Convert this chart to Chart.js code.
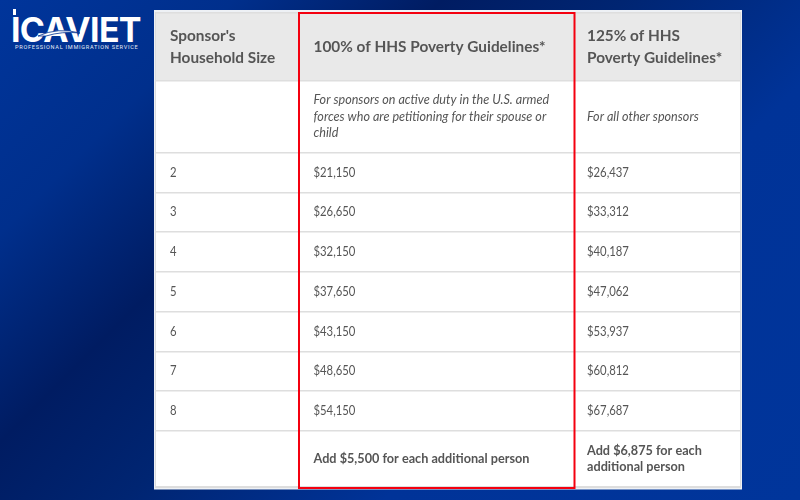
<!DOCTYPE html>
<html>
<head>
<meta charset="utf-8">
<style>
  html, body { margin: 0; padding: 0; }
  body {
    width: 800px; height: 500px; overflow: hidden; position: relative;
    background: linear-gradient(135deg, #00359b 0%, #002f8c 18%, #001c62 34%, #002572 48%, #003398 68%, #00359b 100%);
  }
  canvas { position: absolute; left: 0; top: 0; }
  .logo { position: absolute; color: #fff; white-space: nowrap; }
  #logoName { left: 11px; top: 10px; font: 700 34px/40px Inter, sans-serif; letter-spacing: -0.7px; }
  #logoSub { left: 15px; top: 44px; font: 400 5.6px/7px Roboto, sans-serif; letter-spacing: 0.72px; opacity: 0.9; }
  #logoMark { left: 0; top: 0; }
</style>
</head>
<body>
<div class="logo" id="logoName">ICAVIET</div>
<div class="logo" id="logoSub">PROFESSIONAL IMMIGRATION SERVICE</div>
<svg class="logo" id="logoMark" width="150" height="50">
  <rect x="13" y="9" width="3" height="6" fill="#fff"/>
  <path d="M38 36 Q58 27 80 33 Q62 31 46 36 Z" fill="#fff" stroke="#00308f" stroke-width="0.8"/>
</svg>
<canvas id="table" width="800" height="500"></canvas>
<script src="https://cdn.jsdelivr.net/npm/chart.js@4"></script>
<script>
  // Table content
  const householdSizes = [2, 3, 4, 5, 6, 7, 8];
  const guideline100 = [21150, 26650, 32150, 37650, 43150, 48650, 54150];
  const guideline125 = [26437, 33312, 40187, 47062, 53937, 60812, 67687];
  const headers = [["Sponsor's", 'Household Size'], ['100% of HHS Poverty Guidelines*'], ['125% of HHS', 'Poverty Guidelines*']];
  const notes = [[], ['For sponsors on active duty in the U.S. armed', 'forces who are petitioning for their spouse or', 'child'], ['For all other sponsors']];
  const extras = [[], ['Add $5,500 for each additional person'], ['Add $6,875 for each', 'additional person']];

  // Layout in pixels, the axes run 1:1 with the page
  const rowEdges = [13, 80.5, 153, 192.5, 232, 272, 311.5, 351.5, 391, 431, 487];
  const columnText = [170, 313.5, 587];
  const FONT = 'Lato, sans-serif';
  const TEXT = '#555555';
  // squeeze: Lato runs wider than the font in the reference
  const styles = {
    header: {font: `700 16px ${FONT}`, line: 22.5, squeeze: 0.96},
    note: {font: `italic 400 13px ${FONT}`, line: 16.5, squeeze: 0.97},
    value: {font: `400 13px ${FONT}`, line: 16, squeeze: 0.87},
    extra: {font: `700 13px ${FONT}`, line: 16, squeeze: 0.975},
  };

  const rowMid = (row) => (rowEdges[row] + rowEdges[row + 1]) / 2;
  const money = (v) => '$' + v.toLocaleString('en-US');

  function cells(col, values) {
    const pts = [
      {x: columnText[col], y: rowMid(0), lines: headers[col], style: 'header'},
      {x: columnText[col], y: rowMid(1), lines: notes[col], style: 'note'},
    ];
    values.forEach((v, i) => pts.push({x: columnText[col], y: rowMid(i + 2), lines: [v], style: 'value'}));
    pts.push({x: columnText[col], y: rowMid(9), lines: extras[col], style: 'extra'});
    return pts;
  }

  const tableFrame = {
    id: 'tableFrame',
    beforeDraw(chart) {
      const {ctx, chartArea: a, scales: {y}} = chart;
      ctx.save();
      ctx.fillStyle = '#eef1f5';
      ctx.fillRect(a.left - 2, a.top - 3, a.width + 4, a.height + 5.5);
      ctx.fillStyle = '#dcdcdc';
      ctx.fillRect(a.left - 1, a.top - 1, a.width + 2, a.height + 2);
      ctx.fillStyle = '#ffffff';
      ctx.fillRect(a.left, a.top, a.width, a.height);
      ctx.fillStyle = '#e9e9e9';
      ctx.fillRect(a.left, a.top, a.width, y.getPixelForValue(rowEdges[1]) - a.top);
      ctx.restore();
    },
  };

  const cellText = {
    id: 'cellText',
    afterDatasetsDraw(chart) {
      const {ctx} = chart;
      ctx.save();
      ctx.fillStyle = TEXT;
      ctx.textBaseline = 'middle';
      chart.data.datasets.forEach((ds, d) => {
        chart.getDatasetMeta(d).data.forEach((el, i) => {
          const {lines, style} = ds.data[i];
          const st = styles[style];
          ctx.font = st.font;
          lines.forEach((t, n) => {
            const w = ctx.measureText(t).width * st.squeeze;
            ctx.fillText(t, el.x, el.y + (n - (lines.length - 1) / 2) * st.line, w);
          });
        });
      });
      ctx.restore();
    },
  };

  // red highlight around the 100% column
  const highlight = {
    id: 'highlight',
    afterDraw(chart) {
      const {ctx, scales: {x, y}} = chart;
      ctx.save();
      ctx.strokeStyle = '#f4000f';
      ctx.lineWidth = 2;
      ctx.strokeRect(x.getPixelForValue(299), y.getPixelForValue(13), x.getPixelForValue(574.5) - x.getPixelForValue(299), y.getPixelForValue(488) - y.getPixelForValue(13));
      ctx.restore();
    },
  };

  new Chart(document.getElementById('table'), {
    type: 'scatter',
    data: {
      datasets: [
        {data: cells(0, householdSizes.map(String))},
        {data: cells(1, guideline100.map(money))},
        {data: cells(2, guideline125.map(money))},
      ],
    },
    options: {
      responsive: false,
      animation: false,
      devicePixelRatio: 1,
      layout: {padding: {left: 156, right: 60, top: 13, bottom: 13}},
      elements: {point: {radius: 0, hoverRadius: 0}},
      plugins: {legend: {display: false}, tooltip: {enabled: false}},
      scales: {
        x: {type: 'linear', display: false, min: 156, max: 740},
        y: {
          type: 'linear', min: 13, max: 487, reverse: true,
          ticks: {display: false},
          grid: {color: '#dedede', lineWidth: 1.5, drawTicks: false},
          border: {display: false},
          afterBuildTicks: (s) => { s.ticks = rowEdges.map((value) => ({value})); },
        },
      },
    },
    plugins: [tableFrame, cellText, highlight],
  });
</script>
</body>
</html>
